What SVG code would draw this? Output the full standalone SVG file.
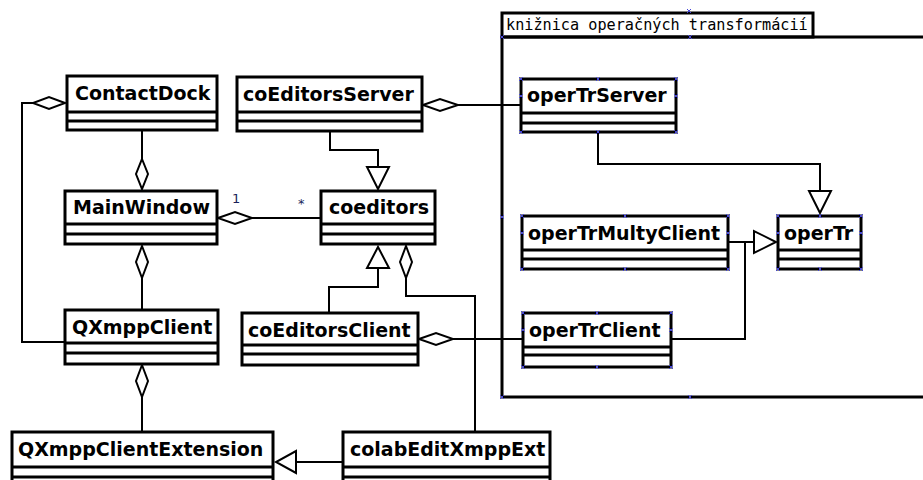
<svg xmlns="http://www.w3.org/2000/svg" width="923" height="480" viewBox="0 0 923 480">
<style>
.box{fill:#fff;stroke:#000;stroke-width:3}
.sep{stroke:#000;stroke-width:3}
.name{font-family:"DejaVu Sans",sans-serif;font-weight:bold;font-size:19px;fill:#000}
.ln{fill:none;stroke:#000;stroke-width:2}
.dia{fill:#fff;stroke:#000;stroke-width:2}
.tri{fill:#fff;stroke:#000;stroke-width:2}
.pkg{fill:none;stroke:#000;stroke-width:3}
.ptxt{font-family:"DejaVu Sans Mono",monospace;font-size:15.2px;fill:#000}
.mult{font-family:"DejaVu Sans",sans-serif;font-size:13px;fill:#1a1f5a}
.h{fill:none;stroke:#4848d8;stroke-width:1}
</style>
<defs>
<path id="hx" d="M-2,-2 L2,2 M-2,2 L2,-2" class="h"/>
</defs>
<rect width="923" height="480" fill="#fff"/>
<g id="package">
<rect x="502" y="13" width="311" height="24" class="pkg"/>
<polyline points="930,37 502,37 502,397 930,397" class="pkg"/>
<text x="506" y="30" class="ptxt">knižnica operačných transformácií</text>
</g>
<g id="connectors">
<polyline points="33,103 22,103 22,342 65,342" class="ln"/>
<polygon points="65,103 49,97 33,103 49,109" class="dia"/>
<line x1="142" y1="130" x2="142" y2="159" class="ln"/>
<polygon points="142,159 148,174 142,189 136,174" class="dia"/>
<line x1="142" y1="278" x2="142" y2="310" class="ln"/>
<polygon points="142,246 148,262 142,278 136,262" class="dia"/>
<line x1="252" y1="218" x2="321" y2="218" class="ln"/>
<polygon points="218,218 235,212 252,218 235,224" class="dia"/>
<text x="232" y="203" class="mult">1</text>
<text x="298" y="208" class="mult">*</text>
<line x1="458" y1="105" x2="521" y2="105" class="ln"/>
<polygon points="423,105 440,99 458,105 440,111" class="dia"/>
<polyline points="330,131 330,150 378,150 378,167" class="ln"/>
<polygon points="367,167 389,167 378,189" class="tri"/>
<polyline points="329,313 329,287 378,287 378,268" class="ln"/>
<polygon points="367,268 389,268 378,247" class="tri"/>
<polyline points="406,278 406,296 475,296 475,432" class="ln"/>
<polygon points="406,246 412,262 406,278 400,262" class="dia"/>
<line x1="453" y1="339" x2="523" y2="339" class="ln"/>
<polygon points="419,339 436,333 453,339 436,345" class="dia"/>
<line x1="142" y1="397" x2="142" y2="432" class="ln"/>
<polygon points="142,365 148,381 142,397 136,381" class="dia"/>
<line x1="343" y1="462" x2="296" y2="462" class="ln"/>
<polygon points="296,451 296,473 276,462" class="tri"/>
<polyline points="598,132 598,164 820,164 820,191" class="ln"/>
<polygon points="809,191 831,191 820,213" class="tri"/>
<polyline points="728,242 754,242" class="ln"/>
<polyline points="671,339 745,339 745,242" class="ln"/>
<polygon points="754,231 754,253 776,242" class="tri"/>
</g>
<g id="ContactDock">
<rect x="67" y="76" width="150" height="54" class="box"/>
<line x1="67" y1="112" x2="217" y2="112" class="sep"/><line x1="67" y1="121" x2="217" y2="121" class="sep"/>
<text x="75" y="100" class="name">ContactDock</text>
</g>
<g id="coEditorsServer">
<rect x="237" y="77" width="185" height="54" class="box"/>
<line x1="237" y1="112" x2="422" y2="112" class="sep"/><line x1="237" y1="121" x2="422" y2="121" class="sep"/>
<text x="243" y="101" class="name">coEditorsServer</text>
</g>
<g id="MainWindow">
<rect x="65" y="191" width="152" height="53" class="box"/>
<line x1="65" y1="224" x2="217" y2="224" class="sep"/><line x1="65" y1="234" x2="217" y2="234" class="sep"/>
<text x="73" y="214" class="name">MainWindow</text>
</g>
<g id="coeditors">
<rect x="321" y="191" width="114" height="53" class="box"/>
<line x1="321" y1="224" x2="435" y2="224" class="sep"/><line x1="321" y1="234" x2="435" y2="234" class="sep"/>
<text x="329" y="214" class="name">coeditors</text>
</g>
<g id="QXmppClient">
<rect x="65" y="310" width="153" height="54" class="box"/>
<line x1="65" y1="343" x2="218" y2="343" class="sep"/><line x1="65" y1="353" x2="218" y2="353" class="sep"/>
<text x="72" y="334" class="name">QXmppClient</text>
</g>
<g id="coEditorsClient">
<rect x="242" y="313" width="176" height="52" class="box"/>
<line x1="242" y1="345" x2="418" y2="345" class="sep"/><line x1="242" y1="354" x2="418" y2="354" class="sep"/>
<text x="248" y="337" class="name">coEditorsClient</text>
</g>
<g id="QXmppClientExtension">
<rect x="12" y="432" width="261" height="56" class="box"/>
<line x1="12" y1="467" x2="273" y2="467" class="sep"/><line x1="12" y1="477" x2="273" y2="477" class="sep"/>
<text x="18" y="456" class="name">QXmppClientExtension</text>
</g>
<g id="colabEditXmppExt">
<rect x="343" y="432" width="207" height="56" class="box"/>
<line x1="343" y1="467" x2="550" y2="467" class="sep"/><line x1="343" y1="477" x2="550" y2="477" class="sep"/>
<text x="350" y="456" class="name">colabEditXmppExt</text>
</g>
<g id="operTrServer">
<rect x="521" y="79" width="155" height="53" class="box"/>
<line x1="521" y1="113" x2="676" y2="113" class="sep"/><line x1="521" y1="123" x2="676" y2="123" class="sep"/>
<text x="527" y="102" class="name">operTrServer</text>
</g>
<g id="operTrMultyClient">
<rect x="522" y="216" width="206" height="53" class="box"/>
<line x1="522" y1="250" x2="728" y2="250" class="sep"/><line x1="522" y1="259" x2="728" y2="259" class="sep"/>
<text x="528" y="240" class="name">operTrMultyClient</text>
</g>
<g id="operTr">
<rect x="778" y="216" width="83" height="53" class="box"/>
<line x1="778" y1="250" x2="861" y2="250" class="sep"/><line x1="778" y1="259" x2="861" y2="259" class="sep"/>
<text x="784" y="240" class="name">operTr</text>
</g>
<g id="operTrClient">
<rect x="523" y="313" width="148" height="54" class="box"/>
<line x1="523" y1="347" x2="671" y2="347" class="sep"/><line x1="523" y1="355" x2="671" y2="355" class="sep"/>
<text x="529" y="337" class="name">operTrClient</text>
</g>
<g id="handles">
<use href="#hx" x="689" y="11"/><use href="#hx" x="502" y="37"/><use href="#hx" x="690" y="37"/><use href="#hx" x="502" y="217"/><use href="#hx" x="502" y="397"/><use href="#hx" x="690" y="397"/>
<use href="#hx" x="521" y="79"/><use href="#hx" x="598" y="79"/><use href="#hx" x="676" y="79"/><use href="#hx" x="521" y="96"/><use href="#hx" x="676" y="96"/><use href="#hx" x="521" y="132"/><use href="#hx" x="598" y="132"/><use href="#hx" x="676" y="132"/>
<use href="#hx" x="522" y="216"/><use href="#hx" x="625" y="216"/><use href="#hx" x="728" y="216"/><use href="#hx" x="522" y="233"/><use href="#hx" x="728" y="233"/><use href="#hx" x="522" y="269"/><use href="#hx" x="625" y="269"/><use href="#hx" x="728" y="269"/>
<use href="#hx" x="778" y="216"/><use href="#hx" x="820" y="216"/><use href="#hx" x="861" y="216"/><use href="#hx" x="778" y="233"/><use href="#hx" x="861" y="233"/><use href="#hx" x="778" y="269"/><use href="#hx" x="820" y="269"/><use href="#hx" x="861" y="269"/>
<use href="#hx" x="523" y="313"/><use href="#hx" x="597" y="313"/><use href="#hx" x="671" y="313"/><use href="#hx" x="523" y="330"/><use href="#hx" x="671" y="330"/><use href="#hx" x="523" y="367"/><use href="#hx" x="597" y="367"/><use href="#hx" x="671" y="367"/>
</g>
</svg>
